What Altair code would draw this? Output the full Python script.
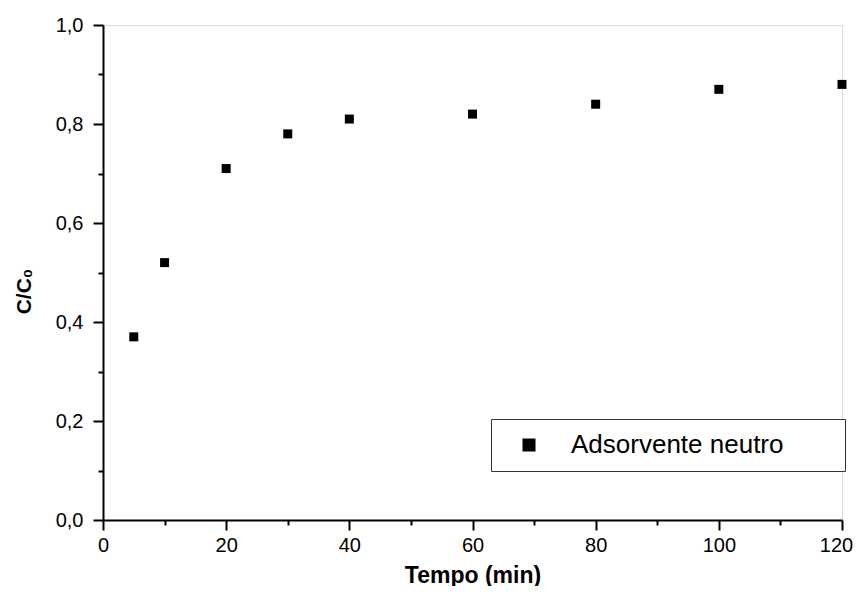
import altair as alt
import pandas as pd

tempo = [5, 10, 20, 30, 40, 60, 80, 100, 120]
c_c0 = [0.37, 0.52, 0.71, 0.78, 0.81, 0.82, 0.84, 0.87, 0.88]
series = ["Adsorvente neutro"] * len(tempo)

x_ticks = [0, 10, 20, 30, 40, 50, 60, 70, 80, 90, 100, 110, 120]
y_ticks = [0, 0.1, 0.2, 0.3, 0.4, 0.5, 0.6, 0.7, 0.8, 0.9, 1.0]

df = pd.DataFrame({"tempo": tempo, "c": c_c0, "serie": series})

FONT = "Liberation Sans"

x_axis = alt.Axis(
    values=x_ticks,
    title="Tempo (min)",
    titleFont=FONT, titleFontSize=23, titleFontWeight="bold", titleColor="black",
    titleBaseline="alphabetic", titleY=62,
    labelFont=FONT, labelFontSize=20, labelColor="black", labelPadding=5,
    labelExpr="datum.value % 20 === 0 ? format(datum.value, 'd') : ''",
    labelOverlap=False, labelFlush=False,
    labelOffset={"condition": {"test": "datum.value === 120", "value": -6}, "value": 0},
    tickSize={"condition": {"test": "datum.value % 20 !== 0", "value": 5}, "value": 10},
    tickWidth=2, tickColor="black",
    domainColor="black", domainWidth=2, grid=False,
)

y_axis = alt.Axis(
    values=y_ticks,
    title="C/C₀",
    titleFont=FONT, titleFontSize=21, titleFontWeight="bold", titleColor="black",
    titleAngle=270, titleAlign="center", titleBaseline="middle",
    titleX=-79, titleY=266,
    labelFont=FONT, labelFontSize=20, labelColor="black", labelPadding=10,
    labelExpr="round(datum.value * 10) % 2 === 0 ? replace(format(datum.value, '.1f'), '.', ',') : ''",
    labelOverlap=False, labelFlush=False,
    tickSize={"condition": {"test": "round(datum.value * 10) % 2 !== 0", "value": 5}, "value": 10},
    tickWidth=2, tickColor="black",
    domainColor="black", domainWidth=2, grid=False,
)

legend = alt.Legend(
    title=None, orient="none", legendX=388, legendY=394,
    padding=13, strokeColor="#333333", fillColor="white",
    labelFont=FONT, labelFontSize=26, labelColor="black", labelLimit=600,
    labelOffset=29, symbolOffset=12,
    symbolType="square", symbolSize=169, symbolFillColor="black", symbolStrokeWidth=0,
    labelExpr="datum.label + '\u00a0\u00a0\u00a0\u00a0\u2800'",
)

chart = (
    alt.Chart(df)
    .mark_square(size=81, opacity=1, filled=True)
    .encode(
        x=alt.X("tempo:Q", scale=alt.Scale(domain=[0, 120], nice=False, zero=False), axis=x_axis),
        y=alt.Y("c:Q", scale=alt.Scale(domain=[0, 1], nice=False), axis=y_axis),
        color=alt.Color("serie:N", scale=alt.Scale(range=["black"]), legend=legend),
    )
    .properties(
        width=739, height=495,
        autosize=alt.AutoSizeParams(type="none"),
        padding={"left": 95, "top": 17, "right": 11, "bottom": 66},
    )
    .configure_view(stroke=None)
    .configure_legend(strokeWidth=1.5)
    .configure(background="white")
)

chart.save("out.html", embed_options={"renderer": "svg", "actions": False})
